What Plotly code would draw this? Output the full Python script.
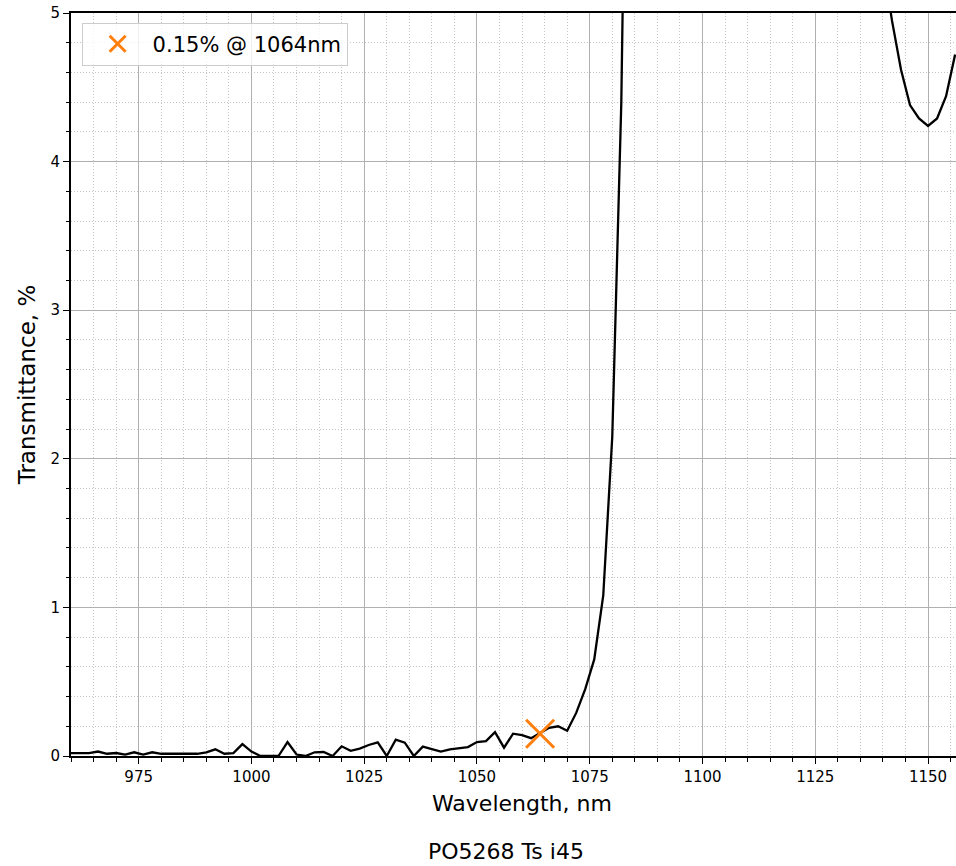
import plotly.graph_objects as go

# Wavelength sampling (nm) and transmittance (%)
wavelength = list(range(960, 1158, 2))
transmittance = [
    0.02, 0.02, 0.02, 0.03, 0.015, 0.02, 0.01, 0.025, 0.01, 0.025,   # 960-978
    0.015, 0.015, 0.015, 0.02, 0.015, 0.025, 0.045, 0.015, 0.02, 0.08,  # 980-998
    0.03, 0.0, 0.0, 0.0, 0.094, 0.01, 0.0, 0.025, 0.027, 0.0,   # 1000-1018
    0.065, 0.035, 0.05, 0.074, 0.092, 0.0, 0.11, 0.09, 0.0, 0.063,  # 1020-1038
    0.047, 0.03, 0.045, 0.052, 0.06, 0.094, 0.10, 0.16, 0.056, 0.15,  # 1040-1058
    0.14, 0.12, 0.155, 0.19, 0.20, 0.17, 0.29, 0.45, 0.65, 1.08,  # 1060-1078
    2.15, 4.4, 8.6,  # 1080-1084
    None, None, None, None, None, None, None, None, None, None,  # 1086-1104 (off scale)
    None, None, None, None, None, None, None, None, None, None,  # 1106-1124 (off scale)
    None, None, None, None, None, None, None,  # 1126-1138 (off scale)
    5.35, 4.95, 4.62, 4.38, 4.29, 4.24, 4.29, 4.44, 4.72,  # 1140-1156
]

marker_wl = [1064]
marker_t = [0.15]
marker_label = "0.15% @ 1064nm"

x_major = [975, 1000, 1025, 1050, 1075, 1100, 1125, 1150]
y_major = [0, 1, 2, 3, 4, 5]

FONT = "DejaVu Sans"
GRID = "#b0b0b0"
MINOR_GRID = "#c4c4c4"

fig = go.Figure()
fig.add_trace(go.Scatter(
    x=wavelength, y=transmittance, mode="lines",
    line=dict(color="black", width=2.3), showlegend=False,
    connectgaps=False, hoverinfo="skip",
))
fig.add_trace(go.Scatter(
    x=marker_wl, y=marker_t, mode="markers", name=marker_label,
    marker=dict(symbol="x-thin", size=28, color="#ff7f0e",
                line=dict(color="#ff7f0e", width=3)),
))

fig.update_layout(
    width=956, height=866,
    margin=dict(l=71, r=0, t=13, b=110),
    plot_bgcolor="white", paper_bgcolor="white",
    font=dict(family=FONT, color="black", size=15),
    legend=dict(
        x=0.012, y=0.987, xanchor="left", yanchor="top",
        bgcolor="rgba(255,255,255,0.8)", bordercolor="#cccccc", borderwidth=1,
        font=dict(family=FONT, size=21), itemwidth=60,
    ),
    annotations=[
        dict(text="Wavelength, nm", xref="paper", yref="paper",
             x=0.5096, y=-0.0633, xanchor="center", yanchor="middle",
             showarrow=False, font=dict(family=FONT, size=22)),
        dict(text="PO5268 Ts i45", xref="paper", yref="paper",
             x=0.4915, y=-0.128, xanchor="center", yanchor="middle",
             showarrow=False, font=dict(family=FONT, size=22)),
    ],
)

fig.update_xaxes(
    range=[960, 1156.2], tickvals=x_major,
    ticks="outside", ticklen=6, tickwidth=1.2, tickcolor="black",
    showline=True, linecolor="black", linewidth=2, mirror=True,
    showgrid=True, gridcolor=GRID, gridwidth=1.3,
    zeroline=False,
    minor=dict(dtick=5, ticks="outside", ticklen=3.5, tickcolor="black",
               showgrid=True, gridcolor=MINOR_GRID, griddash="1px,2px", gridwidth=1),
    tickfont=dict(family=FONT, size=15),
)
fig.update_yaxes(
    range=[0, 5], tickvals=y_major,
    ticks="outside", ticklen=6, tickwidth=1.2, tickcolor="black",
    showline=True, linecolor="black", linewidth=2, mirror=False,
    showgrid=True, gridcolor=GRID, gridwidth=1.3,
    zeroline=False,
    minor=dict(dtick=0.2, ticks="outside", ticklen=3.5, tickcolor="black",
               showgrid=True, gridcolor=MINOR_GRID, griddash="1px,2px", gridwidth=1),
    title=dict(text="Transmittance, %", font=dict(family=FONT, size=23), standoff=8),
    tickfont=dict(family=FONT, size=15),
)

fig.write_html("out.html")
